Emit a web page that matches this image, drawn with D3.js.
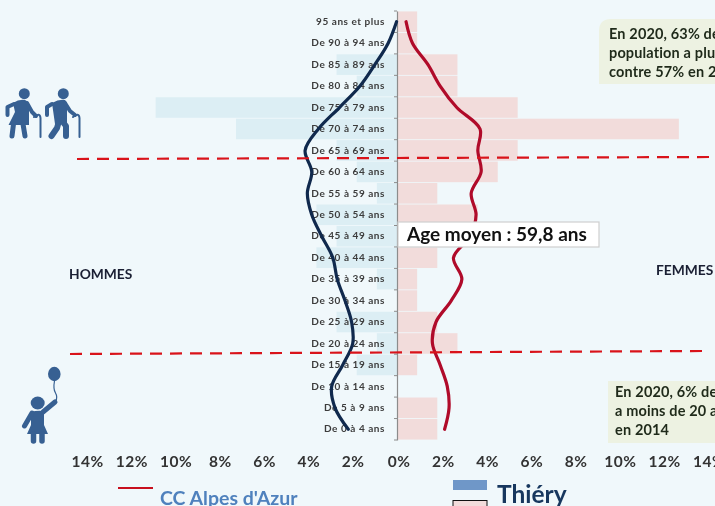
<!DOCTYPE html>
<html lang="fr">
<head>
<meta charset="utf-8">
<script src="https://cdn.jsdelivr.net/npm/d3@7"></script>
<style>
  html, body { margin: 0; padding: 0; background: #f0f8fb; overflow: hidden; }
  svg { display: block; filter: blur(0.35px); font-family: Lato, sans-serif; font-weight: 700; }
  .age-axis text { font-family: Lato, sans-serif; font-size: 10px; fill: #3c3c3c; letter-spacing: 0.55px; }
  .pct-axis text { font-family: Lato, sans-serif; font-size: 15.5px; fill: #333; letter-spacing: 0.5px; }
  .note { font-size: 14.5px; fill: #1f2a1a; letter-spacing: 0.15px; }
</style>
</head>
<body>
<script>
// Age groups, oldest at the top
const ages = ["95 ans et plus", "De 90 à 94 ans", "De 85 à 89 ans", "De 80 à 84 ans", "De 75 à 79 ans",
  "De 70 à 74 ans", "De 65 à 69 ans", "De 60 à 64 ans", "De 55 à 59 ans", "De 50 à 54 ans",
  "De 45 à 49 ans", "De 40 à 44 ans", "De 35 à 39 ans", "De 30 à 34 ans", "De 25 à 29 ans",
  "De 20 à 24 ans", "De 15 à 19 ans", "De 10 à 14 ans", "De 5 à 9 ans", "De 0 à 4 ans"];

// Thiéry, share of the population in %
const thieryHommes = [0, 0, 2.73, 1.82, 10.9, 7.27, 2.73, 1.82, 0.91, 3.64, 2.73, 3.64, 0.91, 0, 2.73, 0.91, 1.82, 0, 0, 0];
const thieryFemmes = [0.91, 0.91, 2.73, 2.73, 5.45, 12.73, 5.45, 4.55, 1.82, 3.64, 1.82, 1.82, 0.91, 0.91, 1.82, 2.73, 0.91, 0, 1.82, 1.82];

// CC Alpes d'Azur, share of the population in %
const ccHommes = [0.02, 0.4, 1.0, 1.67, 2.6, 3.55, 4.15, 3.85, 4.05, 3.85, 3.4, 2.9, 2.7, 2.35, 2.05, 2.0, 2.45, 2.95, 2.8, 2.2];
const ccFemmes = [0.41, 0.7, 1.4, 1.95, 2.7, 3.75, 3.65, 3.8, 3.35, 3.57, 3.3, 2.55, 2.93, 2.45, 1.76, 1.6, 1.95, 2.27, 2.35, 2.15];

const pctTicks = [-14, -12, -10, -8, -6, -4, -2, 0, 2, 4, 6, 8, 10, 12, 14];

const width = 715;
const height = 506;

const svg = d3.select("body").append("svg")
  .attr("width", width)
  .attr("height", height);

const x = d3.scaleLinear().domain([-14, 14]).range([87, 707]);
const y = d3.scaleBand().domain(ages).range([11, 440]).paddingInner(0.04).paddingOuter(0.02);
const yMid = d => y(d) + y.bandwidth() / 2;

// Bars
svg.append("g").selectAll("rect")
  .data(ages)
  .join("rect")
    .attr("x", d => x(-thieryHommes[ages.indexOf(d)]))
    .attr("y", d => y(d))
    .attr("width", d => x(0) - x(-thieryHommes[ages.indexOf(d)]))
    .attr("height", y.bandwidth())
    .attr("fill", "#dceef4");

svg.append("g").selectAll("rect")
  .data(ages)
  .join("rect")
    .attr("x", x(0))
    .attr("y", d => y(d))
    .attr("width", d => x(thieryFemmes[ages.indexOf(d)]) - x(0))
    .attr("height", y.bandwidth())
    .attr("fill", "#f2dcdb");

// Age axis, ticks sit on the row boundaries
const ageAxis = svg.append("g")
  .attr("class", "age-axis")
  .attr("transform", `translate(${x(0)},0)`)
  .call(d3.axisLeft(y).tickSize(0).tickPadding(12));
ageAxis.select(".domain").attr("stroke", "#8c8c8c").attr("stroke-width", 1.2);

svg.append("g").selectAll("line")
  .data(d3.range(ages.length + 1))
  .join("line")
    .attr("x1", x(0) - 3)
    .attr("x2", x(0))
    .attr("y1", i => y.range()[0] + i * (y.range()[1] - y.range()[0]) / ages.length)
    .attr("y2", i => y.range()[0] + i * (y.range()[1] - y.range()[0]) / ages.length)
    .attr("stroke", "#8c8c8c");

// Percent axis
const pctAxis = svg.append("g")
  .attr("class", "pct-axis")
  .attr("transform", "translate(0,450)")
  .call(d3.axisBottom(x).tickValues(pctTicks).tickSize(0).tickPadding(6).tickFormat(d => Math.abs(d) + "%"));
pctAxis.select(".domain").remove();
pctAxis.selectAll(".tick text").attr("dx", d => d >= 0 ? 1.5 : 0);

// Average lines
const lineHommes = d3.line()
  .x((d, i) => x(-ccHommes[i]))
  .y(d => yMid(d))
  .curve(d3.curveCatmullRom);
const lineFemmes = d3.line()
  .x((d, i) => x(ccFemmes[i]))
  .y(d => yMid(d))
  .curve(d3.curveCatmullRom);

svg.append("path").attr("d", lineHommes(ages))
  .attr("fill", "none").attr("stroke", "#10294d").attr("stroke-width", 3.2).attr("stroke-linecap", "round");
svg.append("path").attr("d", lineFemmes(ages))
  .attr("fill", "none").attr("stroke", "#b00b2a").attr("stroke-width", 3.2).attr("stroke-linecap", "round");

// Dashed separators (over 60 / under 20)
[[77, 159, 715, 157], [70, 354, 704, 351]].forEach(s => {
  svg.append("line")
    .attr("x1", s[0]).attr("y1", s[1]).attr("x2", s[2]).attr("y2", s[3])
    .attr("stroke", "#d9131a").attr("stroke-width", 2.2).attr("stroke-dasharray", "12 8");
});

// Average age box
svg.append("rect")
  .attr("x", 398).attr("y", 222).attr("width", 201).attr("height", 25)
  .attr("fill", "#fff").attr("stroke", "#cfcfcf").attr("stroke-width", 1.2);
svg.append("text")
  .attr("x", 407).attr("y", 240.5)
  .attr("font-size", 19).attr("fill", "#111")
  .text("Age moyen : 59,8 ans");

// Side labels
svg.append("text").attr("x", 69).attr("y", 279).attr("font-size", 13.8).attr("fill", "#1a1f33").text("HOMMES");
svg.append("text").attr("x", 656).attr("y", 275).attr("font-size", 13.8).attr("fill", "#1a1f33").text("FEMMES");

// Notes, the source picture is cropped on the right
svg.append("path")
  .attr("d", "M599,84V31Q599,19 611,19H715V84Z")
  .attr("fill", "#edf2e2");
svg.append("rect")
  .attr("x", 608).attr("y", 381).attr("width", 107).attr("height", 62)
  .attr("fill", "#edf2e2");

[["En 2020, 63% de", 609, 39], ["population a plu", 609, 58], ["contre 57% en 2", 609, 77],
 ["En 2020, 6% de", 615, 397], ["a moins de 20 a", 615, 416], ["en 2014", 615, 435]].forEach(t => {
  svg.append("text").attr("class", "note").attr("x", t[1]).attr("y", t[2]).text(t[0]);
});

// Legend
svg.append("line").attr("x1", 118).attr("x2", 153).attr("y1", 488).attr("y2", 488)
  .attr("stroke", "#c8101e").attr("stroke-width", 2);
svg.append("text").attr("x", 160).attr("y", 505).attr("font-size", 19.5).attr("fill", "#4f81bd").text("CC Alpes d'Azur");
svg.append("rect").attr("x", 453).attr("y", 480).attr("width", 34).attr("height", 10).attr("fill", "#6f97c8");
svg.append("rect").attr("x", 453).attr("y", 500.5).attr("width", 34).attr("height", 12)
  .attr("fill", "#f2dcdb").attr("stroke", "#111").attr("stroke-width", 1);
svg.append("text").attr("x", 497).attr("y", 503).attr("font-size", 24.5).attr("fill", "#17375e").text("Thiéry");

// Pictograms
const iconColor = "#376092";
const icons = svg.append("g").attr("fill", iconColor).attr("stroke", iconColor)
  .attr("stroke-linecap", "round").attr("stroke-linejoin", "round");

function limb(d, w) {
  icons.append("path").attr("d", d).attr("fill", "none").attr("stroke-width", w);
}
function blob(d) {
  icons.append("path").attr("d", d).attr("stroke", "none");
}

// Old woman
icons.append("circle").attr("cx", 24.3).attr("cy", 93.7).attr("r", 5.5).attr("stroke", "none");
blob("M13,103Q19,99 25,100Q28,101 29,106L29,125H8.5L15,112Z");
limb("M14,104L7.5,107L7.5,115", 4);
limb("M27,103L32,112L36,116", 4);
limb("M13.5,124L12,136", 5);
limb("M23,124L25,136", 5);
limb("M34,117Q40,112 40.5,118V137", 2);

// Old man
icons.append("circle").attr("cx", 63.3).attr("cy", 93.7).attr("r", 5.5).attr("stroke", "none");
blob("M52,103Q59,99 65,100Q68,102 67,112L67,124H55Z");
limb("M52,104L47,107L47,115", 4);
limb("M65,103L70,111L75,115", 4);
limb("M59,121L57,128L51.5,136", 6);
limb("M62,121L66,126L66,136", 6);
limb("M73,117Q79,112 79.5,118V137", 2);

// Child with balloon
icons.append("ellipse").attr("cx", 54.3).attr("cy", 374).attr("rx", 6.3).attr("ry", 7.2).attr("stroke", "none");
limb("M54.5,381Q53,389 55.5,393T55.5,402", 1.2);
icons.append("ellipse").attr("cx", 37.7).attr("cy", 403).attr("rx", 7).attr("ry", 6.5).attr("stroke", "none");
blob("M31,412Q37,410 44,411L44,425L48,434H27L31,425Z");
limb("M32,413L24.5,426", 5);
limb("M43,412L55,402", 5);
limb("M33.5,434V441", 5.5);
limb("M42,434V441", 5.5);
</script>
</body>
</html>
